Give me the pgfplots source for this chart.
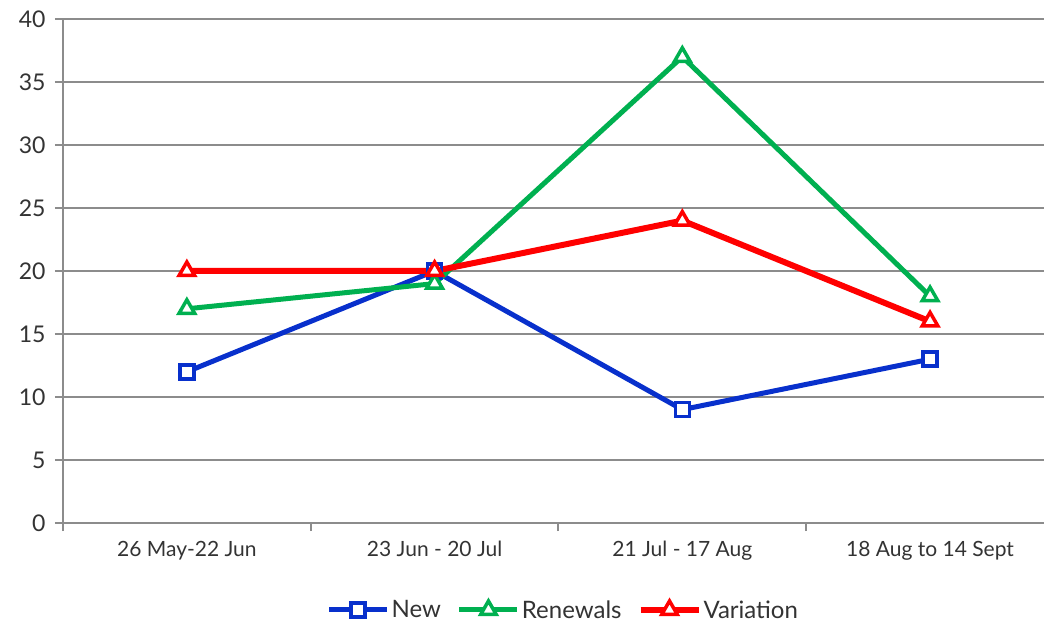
\documentclass[border=0pt]{standalone}
\usepackage{pgfplots}
\pgfplotsset{compat=1.18}
\usepackage{fontspec}
\setmainfont{Lato}
\definecolor{newblue}{RGB}{8,48,204}
\definecolor{rengreen}{RGB}{0,176,80}
\definecolor{varred}{RGB}{255,0,0}
\definecolor{gridgray}{RGB}{140,140,140}
\definecolor{txt}{RGB}{51,51,51}
\begin{document}
\begin{tikzpicture}
\begin{axis}[
  name=ax,
  scale only axis,
  width=981pt, height=504pt,
  xmin=-0.5, xmax=3.46,
  ymin=0, ymax=40,
  ytick={0,5,...,40},
  xtick={0,1,2,3},
  xticklabels={26 May-22 Jun,23 Jun - 20 Jul,21 Jul - 17 Aug,18 Aug to 14 Sept},
  minor xtick={-0.5,0.5,1.5,2.5},
  major x tick style={draw=none},
  minor x tick style={gridgray, line width=2pt},
  major y tick style={gridgray, line width=2pt},
  tick align=outside,
  major tick length=8pt,
  minor tick length=8pt,
  xtick pos=bottom, ytick pos=left,
  ymajorgrids,
  grid style={gridgray, line width=2pt},
  axis x line*=bottom, axis y line*=left,
  axis line style={gridgray, line width=2pt, -},
  tick label style={text=txt},
  yticklabel style={font=\fontsize{23}{27}\selectfont, xshift=-6pt},
  xticklabel style={font=\fontsize{21}{25}\selectfont, yshift=-7pt},
  /pgf/number format/assume math mode=true,
  legend style={at={(0.51,-0.1726)}, anchor=center, draw=none,
    font=\fontsize{24}{28}\selectfont, text=txt, inner sep=0pt,
    /tikz/every even column/.append style={column sep=14pt}},
  legend columns=3,
  legend image code/.code={
    \draw[#1, mark repeat=2, mark phase=2] plot coordinates {(0pt,0pt) (29pt,0pt) (58pt,0pt)};
  },
  clip=false,
]
\addplot[newblue, line width=5pt, mark=square*, mark size=7pt,
  mark options={fill=white, line width=3.5pt}]
  coordinates {(0,12) (1,20) (2,9) (3,13)};
\addlegendentry{New}
\addplot[rengreen, line width=5pt, mark=triangle*, mark size=9pt,
  mark options={fill=white, line width=3.5pt}]
  coordinates {(0,17) (1,19) (2,37) (3,18)};
\addlegendentry{Renewals}
\addplot[varred, line width=6pt, mark=triangle*, mark size=9pt,
  mark options={fill=white, line width=3.5pt}]
  coordinates {(0,20) (1,20) (2,24) (3,16)};
\addlegendentry{Variation}
\end{axis}
\pgfresetboundingbox
\useasboundingbox ([shift={(-63pt,-100pt)}]ax.south west) rectangle ([shift={(0pt,19pt)}]ax.north east);
\end{tikzpicture}
\end{document}
